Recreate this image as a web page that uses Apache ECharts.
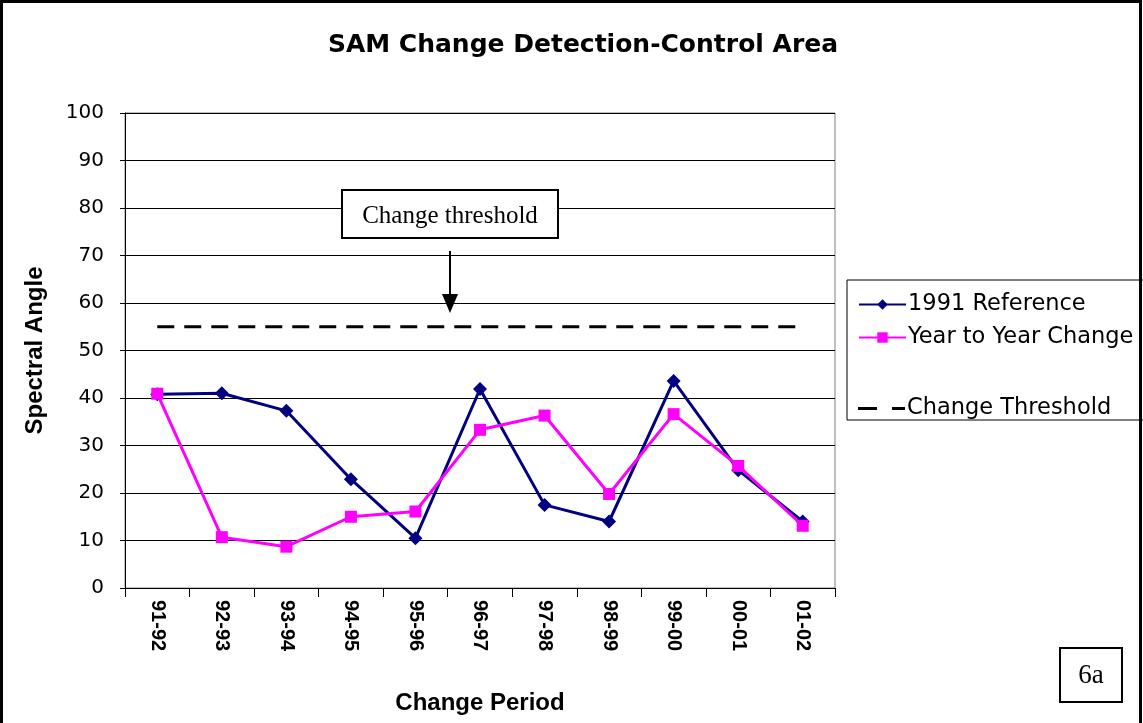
<!DOCTYPE html>
<html><head><meta charset="utf-8">
<script src="https://cdn.jsdelivr.net/npm/echarts@6/dist/echarts.min.js"></script>
<style>html,body{margin:0;padding:0;background:#fff}#c{width:1143px;height:723px}</style>
</head><body><div id="c"></div>
<script>
const categories = ['91-92','92-93','93-94','94-95','95-96','96-97','97-98','98-99','99-00','00-01','01-02'];
const reference1991 = [40.8, 41.0, 37.3, 22.9, 10.5, 41.9, 17.5, 14.0, 43.6, 24.8, 14.0];
const yearToYear = [40.9, 10.7, 8.7, 15.0, 16.1, 33.3, 36.3, 19.8, 36.6, 25.7, 13.1];
const threshold = [55, 55, 55, 55, 55, 55, 55, 55, 55, 55, 55];
const yTicks = [0,10,20,30,40,50,60,70,80,90,100];

const chart = echarts.init(document.getElementById('c'), null, {renderer:'canvas'});
const F = 'Liberation Sans, Arial, sans-serif';
const D = '"DejaVu Sans", sans-serif';
chart.setOption({
  animation:false,
  backgroundColor:'#fff',
  title:{text:'SAM Change Detection-Control Area', left:578, top:28, textAlign:'center',
    textStyle:{fontFamily:D, fontSize:25, fontWeight:'bold', color:'#000'}},
  grid:{left:125, right:308, top:113, bottom:135, show:true, borderColor:'#808080', borderWidth:1},
  legend:[
    {data:['1991 Reference','Year to Year Change'], orient:'vertical', left:853, top:288, itemGap:10,
     itemWidth:47, itemHeight:13, textStyle:{fontFamily:D, fontSize:22.5, color:'#000', padding:[0,0,0,-3]}},
    {data:[{name:'Change Threshold', icon:'path://M0,0H19V3H0Z M34,0H47V3H34Z'}], orient:'vertical', left:853, top:392,
     itemWidth:47, itemHeight:3, textStyle:{fontFamily:D, fontSize:22.5, color:'#000', padding:[0,0,0,-3]}}
  ],
  xAxis:{type:'category', data:categories, boundaryGap:true,
    name:'Change Period', nameLocation:'middle', nameGap:103,
    nameTextStyle:{fontFamily:F, fontSize:24, fontWeight:'bold', color:'#000'},
    axisLine:{lineStyle:{color:'#000', width:1}},
    axisTick:{show:true, length:9, lineStyle:{color:'#000'}, alignWithLabel:false},
    axisLabel:{rotate:-90, fontFamily:F, fontSize:20, fontWeight:'bold', color:'#000', margin:12, interval:0}},
  yAxis:{type:'value', min:0, max:100, interval:10,
    name:'Spectral Angle', nameLocation:'middle', nameGap:78, nameRotate:90,
    nameTextStyle:{fontFamily:F, fontSize:24, fontWeight:'bold', color:'#000'},
    axisLine:{show:true, lineStyle:{color:'#000', width:1}},
    axisTick:{show:true, length:5, lineStyle:{color:'#000'}},
    axisLabel:{fontFamily:D, fontSize:20, color:'#000', margin:21},
    splitLine:{lineStyle:{color:'#000', width:1}}},
  series:[
    {name:'1991 Reference', type:'line', data:reference1991, symbol:'diamond', symbolSize:14,
     lineStyle:{color:'#000080', width:3}, itemStyle:{color:'#000080'}, z:3},
    {name:'Year to Year Change', type:'line', data:yearToYear, symbol:'rect', symbolSize:12,
     lineStyle:{color:'#FF00FF', width:3}, itemStyle:{color:'#FF00FF'}, z:4},
    {name:'Change Threshold', type:'line', data:threshold, symbol:'none', showSymbol:false,
     lineStyle:{color:'#000', width:3, type:[17,10]}, itemStyle:{color:'#000'}, z:2}
  ],
  graphic:[
    {type:'rect', shape:{x:1.5, y:1.5, width:1139, height:760}, style:{fill:'none', stroke:'#000', lineWidth:3}, z:100},
    {type:'rect', shape:{x:847, y:280, width:310, height:140}, style:{fill:'none', stroke:'#000', lineWidth:1}, z:100},
    {type:'rect', shape:{x:342, y:190, width:216, height:48}, style:{fill:'#fff', stroke:'#000', lineWidth:2}, z:100},
    {type:'text', x:450, y:216, style:{text:'Change threshold', font:'25px "Liberation Serif", "Times New Roman", serif', fill:'#000', textAlign:'center', textVerticalAlign:'middle'}, z:101},
    {type:'line', shape:{x1:450, y1:251, x2:450, y2:298}, style:{stroke:'#000', lineWidth:2}, z:100},
    {type:'polygon', shape:{points:[[442,294],[458,294],[450,313]]}, style:{fill:'#000'}, z:100},
    {type:'rect', shape:{x:1060, y:648, width:62, height:54}, style:{fill:'#fff', stroke:'#000', lineWidth:2}, z:100},
    {type:'text', x:1091, y:676, style:{text:'6a', font:'27px "Liberation Serif", "Times New Roman", serif', fill:'#000', textAlign:'center', textVerticalAlign:'middle'}, z:101}
  ]
});
</script></body></html>
